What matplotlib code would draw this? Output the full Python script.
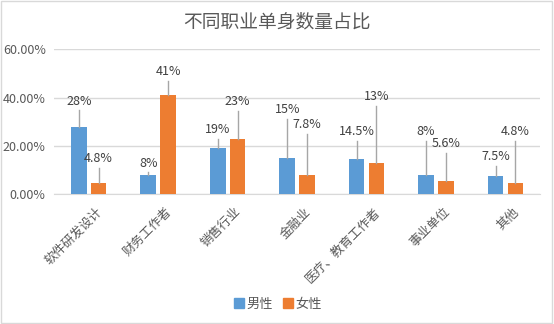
import matplotlib
matplotlib.use("Agg")
import matplotlib.pyplot as plt
from matplotlib.patches import Rectangle
from matplotlib.lines import Line2D
from matplotlib.ticker import FuncFormatter

plt.rcParams['font.family'] = ['Noto Sans CJK SC', 'DejaVu Sans']

categories = ["软件研发设计", "财务工作者", "销售行业", "金融业", "医疗、教育工作者", "事业单位", "其他"]
male = [28, 8, 19, 15, 14.5, 8, 7.5]
female = [4.8, 41, 23, 7.8, 13, 5.6, 4.8]
male_labels = ["28%", "8%", "19%", "15%", "14.5%", "8%", "7.5%"]
female_labels = ["4.8%", "41%", "23%", "7.8%", "13%", "5.6%", "4.8%"]
# label placement heights (data units, % of axis) as in the reference
male_label_y = [38.6, 12.8, 26.6, 35.0, 25.8, 25.8, 15.4]
female_label_y = [14.6, 50.8, 38.3, 28.8, 40.4, 20.8, 25.8]

BLUE = "#5B9BD5"
ORANGE = "#ED7D31"
TXT = "#595959"

fig = plt.figure(figsize=(5.54, 3.24), dpi=100)
fig.patch.set_facecolor("white")
fig.add_artist(Rectangle((0.002, 0.003), 0.995, 0.994, transform=fig.transFigure,
                         fill=False, edgecolor="#D9D9D9", linewidth=1.0))

ax = fig.add_axes([0.0975, 0.401, 0.8775, 0.4465])
x = list(range(len(categories)))
w = 0.225
off = 0.1425
ax.bar([i - off for i in x], male, width=w, color=BLUE, zorder=3)
ax.bar([i + off for i in x], female, width=w, color=ORANGE, zorder=3)

ax.set_xlim(-0.5, len(categories) - 0.5)
ax.set_ylim(0, 60)
ax.set_yticks([0, 20, 40, 60])
ax.yaxis.set_major_formatter(FuncFormatter(lambda v, p: f"{v:.2f}%"))
ax.grid(axis="y", color="#D9D9D9", linewidth=1.0, zorder=0)
for s in ["top", "right", "left"]:
    ax.spines[s].set_visible(False)
ax.spines["bottom"].set_color("#D9D9D9")
ax.tick_params(axis="both", length=0, labelsize=9, labelcolor=TXT)
ax.tick_params(axis="y", pad=6)
ax.set_xticks(x)
ax.set_xticklabels([])

for i, c in enumerate(categories):
    ax.annotate(c, xy=(i + 0.1, 0), xycoords="data", xytext=(0, -8),
                textcoords="offset points", rotation=45, ha="right", va="top",
                rotation_mode="anchor", fontsize=9, color=TXT)

def labels(vals, labs, ly, dx):
    for i, (v, t, y) in enumerate(zip(vals, labs, ly)):
        xc = i + dx
        ax.text(xc, y, t, ha="center", va="center", fontsize=9, color="#404040", zorder=5)
        bottom = y - 3.7
        if bottom > v:
            ax.plot([xc, xc], [v, bottom], color="#A6A6A6", linewidth=1.0, zorder=4)

labels(male, male_labels, male_label_y, -off)
labels(female, female_labels, female_label_y, off)

fig.suptitle("不同职业单身数量占比", y=0.965, fontsize=13.5, color=TXT)

handles = [Line2D([], [], marker="s", linestyle="", markersize=7, color=BLUE),
           Line2D([], [], marker="s", linestyle="", markersize=7, color=ORANGE)]
fig.legend(handles, ["男性", "女性"], loc="center", bbox_to_anchor=(0.5, 0.06),
           ncol=2, frameon=False, fontsize=9.5, labelcolor=TXT,
           handletextpad=0.1, columnspacing=0.6, handlelength=1.0)

fig.savefig("out.png", dpi=100)
